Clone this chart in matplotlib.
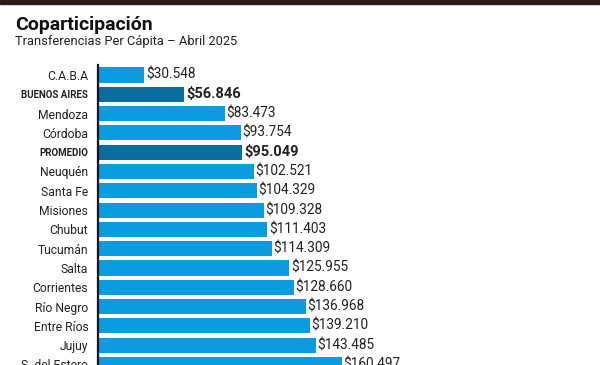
import numpy as np
import matplotlib
matplotlib.use("Agg")
import matplotlib.pyplot as plt
from matplotlib import font_manager
from matplotlib.patches import Rectangle

# Data
provinces = ["C.A.B.A", "BUENOS AIRES", "Mendoza", "Córdoba", "PROMEDIO", "Neuquén",
             "Santa Fe", "Misiones", "Chubut", "Tucumán", "Salta", "Corrientes",
             "Río Negro", "Entre Ríos", "Jujuy", "S. del Estero"]
values = [30548, 56846, 83473, 93754, 95049, 102521,
          104329, 109328, 111403, 114309, 125955, 128660,
          136968, 139210, 143485, 160497]
highlight = ["BUENOS AIRES", "PROMEDIO"]

available = {f.name for f in font_manager.fontManager.ttflist}
font = "Liberation Sans Narrow" if "Liberation Sans Narrow" in available else "Roboto"
plt.rcParams["font.family"] = [font, "DejaVu Sans"]

light = "#0b9ce0"
dark = "#0a6e9e"

W, H = 600, 365
fig = plt.figure(figsize=(W / 100, H / 100), dpi=100)

# dark strip along the top edge
fig.patches.append(Rectangle((0, 1 - 4 / H), 1, 4 / H, transform=fig.transFigure,
                             color="#2a1c17", zorder=0))

ax_left, ax_top = 98, 65
ax = fig.add_axes([ax_left / W, 0, 1 - ax_left / W, 1 - ax_top / H])

y = np.arange(len(provinces))
colors = [dark if p in highlight else light for p in provinces]
ax.barh(y, values, height=0.78, color=colors, zorder=2)

step = 19.3
ax.set_ylim((H - 75) / step, (ax_top - 75) / step)
ax.set_xlim(0, (W - ax_left) / 1.52 * 1000)

for yi, v, p in zip(y, values, provinces):
    txt = "$" + f"{v:,}".replace(",", ".")
    bold = p in highlight
    ax.text(v + 1000, yi, txt, va="center", ha="left",
            fontsize=10.5 if bold else 9.8, fontweight="bold" if bold else "normal",
            color="#222222")

ax.set_yticks(y)
ax.set_yticklabels(provinces)
for lbl, p in zip(ax.get_yticklabels(), provinces):
    if p in highlight:
        lbl.set_fontweight("bold")
        lbl.set_fontsize(7)
    else:
        lbl.set_fontsize(8.7)
    lbl.set_color("#222222")
ax.tick_params(axis="y", length=0, pad=7)
ax.set_xticks([])

for s in ["top", "right", "bottom"]:
    ax.spines[s].set_visible(False)
ax.spines["left"].set_linewidth(1.6)
ax.spines["left"].set_color("#111111")

fig.text(15 / W, 1 - 30 / H, "Coparticipación", fontsize=14, fontweight="bold",
         color="#111111", va="baseline", ha="left")
fig.text(15 / W, 1 - 45.5 / H, "Transferencias Per Cápita – Abril 2025", fontsize=9.3,
         color="#222222", va="baseline", ha="left")

fig.savefig("out.png", dpi=100)
